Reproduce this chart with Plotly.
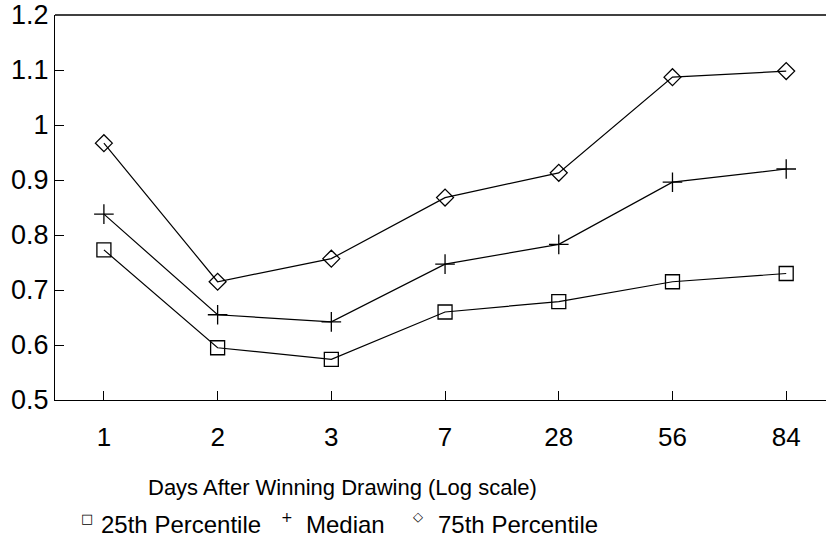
import plotly.graph_objects as go

days = ["1", "2", "3", "7", "28", "56", "84"]
p25 = [0.773, 0.595, 0.574, 0.660, 0.679, 0.715, 0.730]
median = [0.838, 0.655, 0.642, 0.747, 0.783, 0.896, 0.920]
p75 = [0.967, 0.715, 0.757, 0.868, 0.913, 1.087, 1.098]
yticks = [0.5, 0.6, 0.7, 0.8, 0.9, 1.0, 1.1, 1.2]
ytick_text = ["0.5", "0.6", "0.7", "0.8", "0.9", "1", "1.1", "1.2"]
legend_labels = ["25th Percentile", "Median", "75th Percentile"]
legend_symbols = ["□", "+", "◇"]

FONT = "Liberation Sans, Arial, sans-serif"
W, H = 826, 546
ML, MR, MT, MB = 55, 0, 15, H - 400
PW, PH = W - ML - MR, H - MT - MB


def px(x):
    return (x - ML) / PW


def py(y):
    return (H - MB - y) / PH


fig = go.Figure()
line = dict(color="black", width=1.2)
fig.add_trace(go.Scatter(x=days, y=p25, mode="lines+markers", name=legend_labels[0], line=line,
                         marker=dict(symbol="square-open", size=14, color="black", line=dict(width=1.3))))
fig.add_trace(go.Scatter(x=days, y=median, mode="lines+markers", name=legend_labels[1], line=line,
                         marker=dict(symbol="cross-thin-open", size=14, color="black",
                                     line=dict(width=1.3, color="black"))))
fig.add_trace(go.Scatter(x=days, y=p75, mode="lines+markers", name=legend_labels[2], line=line,
                         marker=dict(symbol="diamond-open", size=13, color="black", line=dict(width=1.3))))

fig.update_layout(
    width=W, height=H,
    margin=dict(l=ML, r=MR, t=MT, b=MB),
    paper_bgcolor="white", plot_bgcolor="white",
    showlegend=False,
    font=dict(family=FONT, color="black"),
)
fig.update_xaxes(type="category", range=[-0.43, 6.35], showline=True, linecolor="black", linewidth=1.3,
                 ticks="inside", ticklen=9, tickwidth=1.2, tickcolor="black", automargin=False,
                 showgrid=False, zeroline=False, tickfont=dict(size=26, family=FONT),
                 ticklabelstandoff=14)
fig.update_yaxes(range=[0.5, 1.2], tickvals=yticks, ticktext=ytick_text, showline=True, linecolor="black",
                 linewidth=1.3, ticks="inside", ticklen=9, tickwidth=1.2, tickcolor="black",
                 automargin=False, showgrid=False, zeroline=False, tickfont=dict(size=27, family=FONT),
                 ticklabeloverflow="allow")
fig.add_shape(type="line", xref="paper", yref="paper", x0=0, x1=1, y0=1, y1=1,
              line=dict(color="black", width=1.3))

fig.add_annotation(text="Days After Winning Drawing (Log scale)", xref="paper", yref="paper",
                   x=px(342), y=py(487), xanchor="center", yanchor="middle", showarrow=False,
                   font=dict(size=22, family=FONT))

sym_x = [87, 287, 418]
sym_y = [518, 517, 516]
sym_size = [13, 14, 13]
txt_x = [99, 304, 436]
for s, sx, sy, ss in zip(legend_symbols, sym_x, sym_y, sym_size):
    fig.add_annotation(text=s, xref="paper", yref="paper", x=px(sx), y=py(sy), xanchor="center",
                       yanchor="middle", showarrow=False, font=dict(size=ss, family="DejaVu Sans"))
for t, tx in zip(legend_labels, txt_x):
    fig.add_annotation(text=t, xref="paper", yref="paper", x=px(tx), y=py(524), xanchor="left",
                       yanchor="middle", showarrow=False, font=dict(size=24, family=FONT))

fig.write_html("out.html", config={"displayModeBar": False},
               post_script="document.body.style.margin='0';document.body.style.overflow='hidden';")
